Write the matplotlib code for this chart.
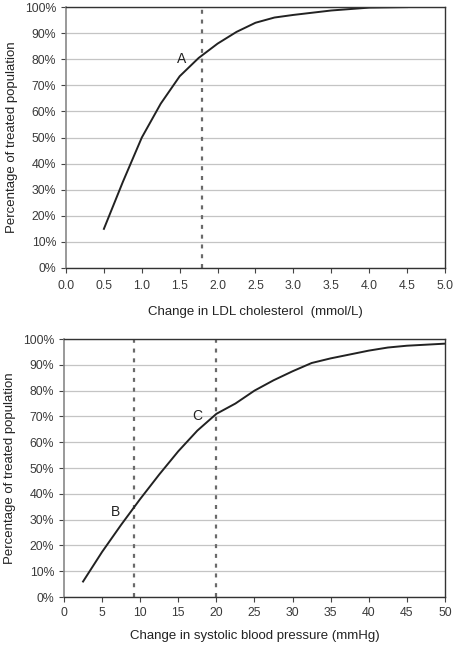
import numpy as np
import matplotlib
matplotlib.use('Agg')
import matplotlib.pyplot as plt
from matplotlib.ticker import FuncFormatter

plt.rcParams['font.family'] = ['Liberation Sans', 'DejaVu Sans']

# LDL cholesterol curve
ldl_x = [0.5, 0.75, 1.0, 1.25, 1.5, 1.75, 2.0, 2.25, 2.5, 2.75, 3.0, 3.5, 4.0, 4.5]
ldl_y = [15, 33, 50, 63, 73.5, 80.5, 86, 90.5, 94, 96, 97, 98.7, 99.8, 100]
ldl_cut = [1.8]

# systolic blood pressure curve
sbp_x = [2.5, 5, 7.5, 10, 12.5, 15, 17.5, 20, 22.5, 25, 27.5, 30, 32.5, 35,
         37.5, 40, 42.5, 45, 47.5, 50]
sbp_y = [6, 17.5, 28, 38, 47.5, 56.5, 64.5, 71, 75, 80, 84, 87.5, 90.7, 92.5,
         94, 95.5, 96.7, 97.4, 97.8, 98.2]
sbp_cut = [9.2, 20]

line_c = '#222222'
grid_c = '#c4c4c4'
dash_c = '#6a6a6a'

fig = plt.figure(figsize=(4.53, 6.45), dpi=100)
ax1 = fig.add_axes([0.1457, 0.5845, 0.8366, 0.4045])
ax2 = fig.add_axes([0.1413, 0.0744, 0.8410, 0.4000])


def style(ax):
    ax.set_ylim(0, 100)
    ax.set_yticks(np.arange(0, 101, 10))
    ax.yaxis.set_major_formatter(FuncFormatter(lambda v, p: '%d%%' % v))
    ax.grid(axis='y', color=grid_c, linewidth=0.9)
    ax.set_axisbelow(True)
    for s in ['top', 'right', 'bottom']:
        ax.spines[s].set_color('#333333')
        ax.spines[s].set_linewidth(1.0)
    ax.spines['left'].set_color('#888888')
    ax.spines['left'].set_linewidth(1.2)
    ax.tick_params(colors='#444444', labelcolor='#3a3a3a', labelsize=8.8,
                   length=3.6, width=0.8, pad=3.5)
    ax.set_ylabel('Percentage of treated population', fontsize=9.5,
                  color='#222222', labelpad=5)


style(ax1)
ax1.set_xlim(0, 5)
ax1.set_xticks(np.arange(0, 5.01, 0.5))
ax1.xaxis.set_major_formatter(FuncFormatter(lambda v, p: '%.1f' % v))
ax1.tick_params(axis='x', pad=5)
for c in ldl_cut:
    ax1.axvline(c, color=dash_c, linestyle=(0, (1.8, 2.6)), linewidth=1.6)
ax1.plot(ldl_x, ldl_y, color=line_c, linewidth=1.4)
ax1.text(1.53, 80, 'A', fontsize=10, ha='center', va='center', color='#222222')
ax1.set_xlabel('Change in LDL cholesterol  (mmol/L)', fontsize=9.5,
               color='#222222', labelpad=10)

style(ax2)
ax2.set_xlim(0, 50)
ax2.set_xticks(np.arange(0, 51, 5))
for c in sbp_cut:
    ax2.axvline(c, color=dash_c, linestyle=(0, (1.8, 2.6)), linewidth=1.6)
ax2.plot(sbp_x, sbp_y, color=line_c, linewidth=1.4)
ax2.text(6.7, 33, 'B', fontsize=10, ha='center', va='center', color='#222222')
ax2.text(17.5, 70, 'C', fontsize=10, ha='center', va='center', color='#222222')
ax2.set_xlabel('Change in systolic blood pressure (mmHg)', fontsize=9.5,
               color='#222222', labelpad=8)

fig.savefig('out.png', dpi=100)
